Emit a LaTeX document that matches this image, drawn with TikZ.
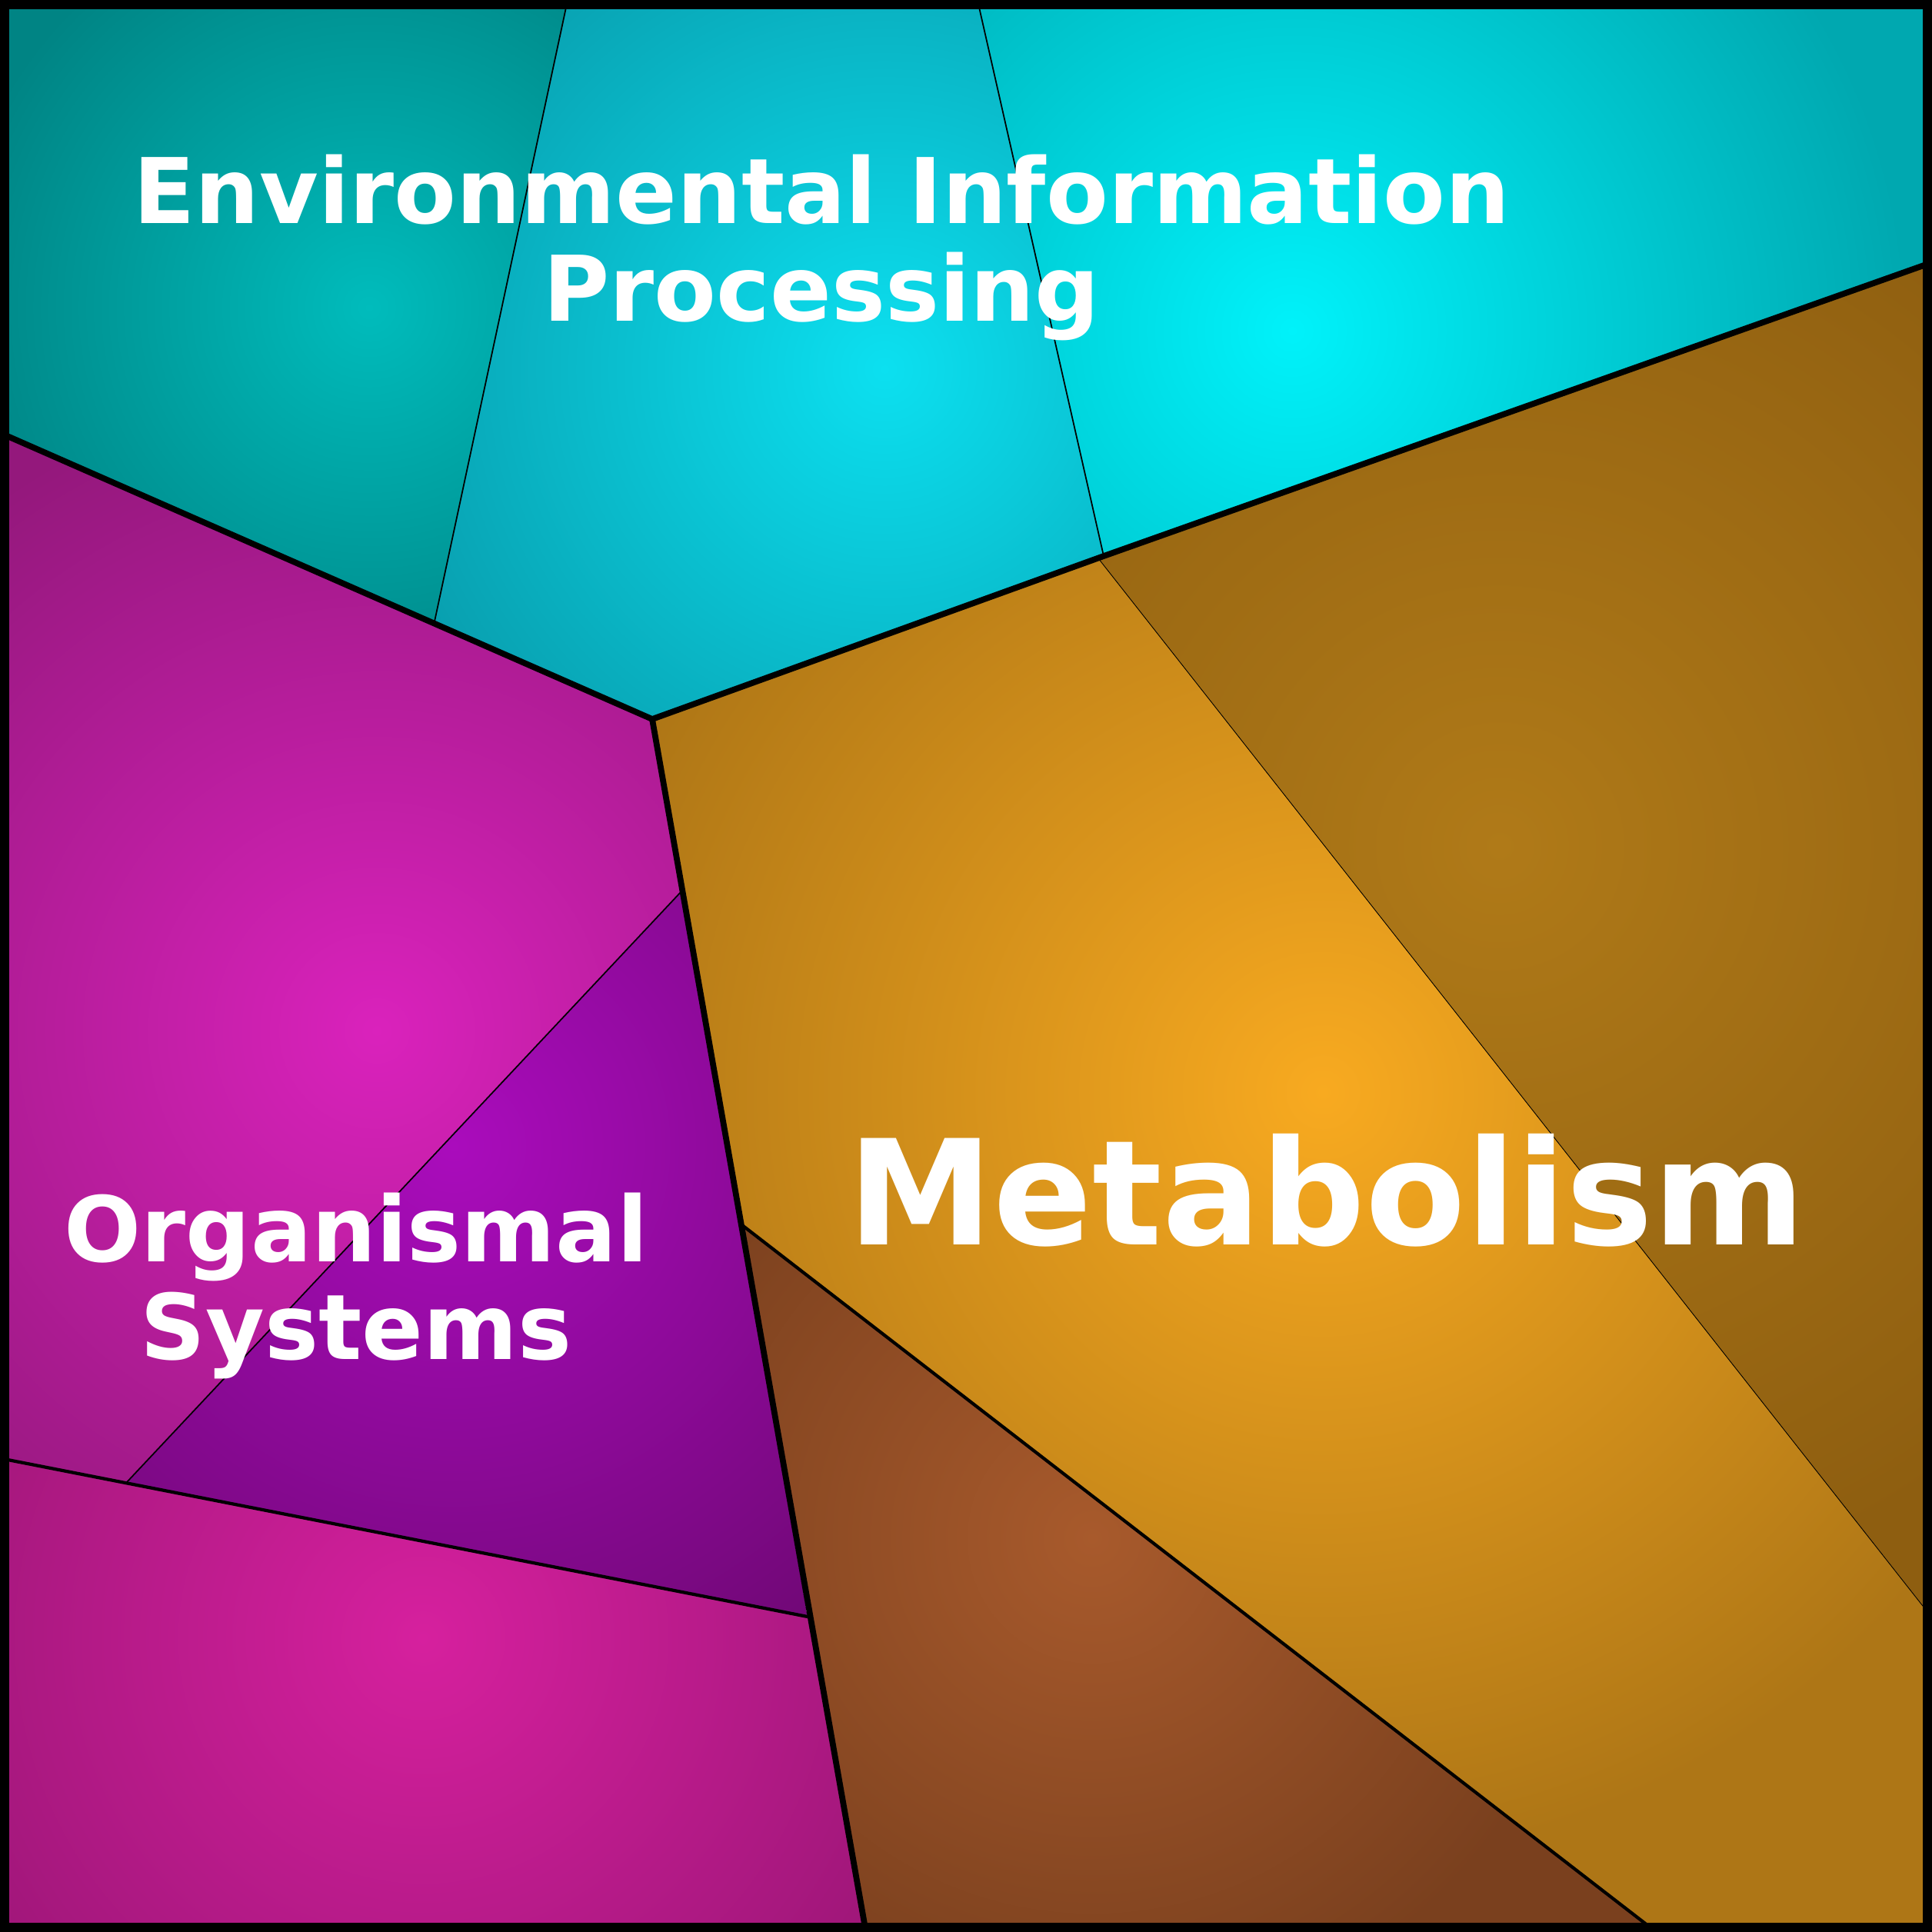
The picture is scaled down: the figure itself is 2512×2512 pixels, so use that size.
\documentclass[tikz,border=0pt]{standalone}
\usepackage{fontspec}
\setmainfont{DejaVu Sans}
\usepackage{xcolor}

\definecolor{envA}{HTML}{00BCBC}
\definecolor{envAo}{HTML}{008484}
\definecolor{envB}{HTML}{0CE0F0}
\definecolor{envBo}{HTML}{0898A8}
\definecolor{envC}{HTML}{00F2FA}
\definecolor{envCo}{HTML}{00A8B0}
\definecolor{metA}{HTML}{F8AA20}
\definecolor{metAo}{HTML}{AE7616}
\definecolor{metB}{HTML}{B07A18}
\definecolor{metBo}{HTML}{8E5E10}
\definecolor{metC}{HTML}{A85A2C}
\definecolor{metCo}{HTML}{7A401E}
\definecolor{orgA}{HTML}{DA22BC}
\definecolor{orgAo}{HTML}{94187C}
\definecolor{orgB}{HTML}{AA0CBC}
\definecolor{orgBo}{HTML}{720878}
\definecolor{orgC}{HTML}{D6209E}
\definecolor{orgCo}{HTML}{921470}

\tikzset{
  label text/.style={text=white,font=\bfseries,align=center},
}

\newcommand{\cell}[5]{% polygon, inner, outer, centre, radius
  \begin{scope}
    \clip #1 -- cycle;
    \fill[#3] #1 -- cycle;
    \shade[inner color=#2,outer color=#3] (#4) circle (#5);
  \end{scope}
}

\begin{document}
\begin{tikzpicture}[x=0.01cm,y=-0.01cm]
  \useasboundingbox (0,0) rectangle (2512,2512);

  % Environmental Information Processing
  \cell{(5,5) -- (737,5) -- (565,808) -- (5,565)}{envA}{envAo}{480,400}{550}
  \cell{(737,5) -- (1272,5) -- (1435,723) -- (848,935) -- (565,808)}{envB}{envBo}{1150,480}{750}
  \cell{(1272,5) -- (2507,5) -- (2507,343) -- (1435,723)}{envC}{envCo}{1680,430}{800}

  % Metabolism
  \cell{(848,935) -- (1428,726) -- (2507,2097) -- (2507,2507) -- (2147,2507) -- (965,1593)}{metA}{metAo}{1720,1420}{1000}
  \cell{(1428,726) -- (2507,343) -- (2507,2097)}{metB}{metBo}{1950,1100}{1000}
  \cell{(965,1593) -- (2147,2507) -- (1125,2507)}{metC}{metCo}{1420,2000}{650}

  % Organismal Systems
  \cell{(5,565) -- (848,935) -- (885,1160) -- (165,1927) -- (5,1897)}{orgA}{orgAo}{490,1340}{850}
  \cell{(885,1160) -- (1050,2102) -- (165,1927)}{orgB}{orgBo}{590,1490}{750}
  \cell{(5,1897) -- (1050,2102) -- (1125,2507) -- (5,2507)}{orgC}{orgCo}{550,2130}{850}

  % Inner borders
  \draw[line width=0.5pt] (737,5) -- (565,808);
  \draw[line width=0.5pt] (1272,5) -- (1435,723);
  \draw[line width=0.25pt] (1428,726) -- (2507,2097);
  \draw[line width=1.2pt] (965,1593) -- (2147,2507);
  \draw[line width=0.5pt] (885,1160) -- (165,1927);
  \draw[line width=1.2pt] (5,1897) -- (1050,2102);

  % Group borders
  \draw[line width=2.2pt,line join=round] (5,565) -- (848,935) -- (1435,723) -- (2507,343);
  \draw[line width=2.2pt] (848,935) -- (1125,2507);
  \draw[line width=4pt] (5,5) rectangle (2507,2507);

  % Labels
  \node[label text,font=\bfseries\fontsize{33.5}{36}\selectfont] (env) at (1068,322)
    {Environmental Information\\Processing};
  \node[label text,font=\bfseries\fontsize{33.5}{36}\selectfont] (org) at (463,1672)
    {Organismal\\Systems};
  \node[label text,font=\bfseries\fontsize{54}{56}\selectfont] (met) at (1725,1548)
    {Metabolism};
\end{tikzpicture}
\end{document}
